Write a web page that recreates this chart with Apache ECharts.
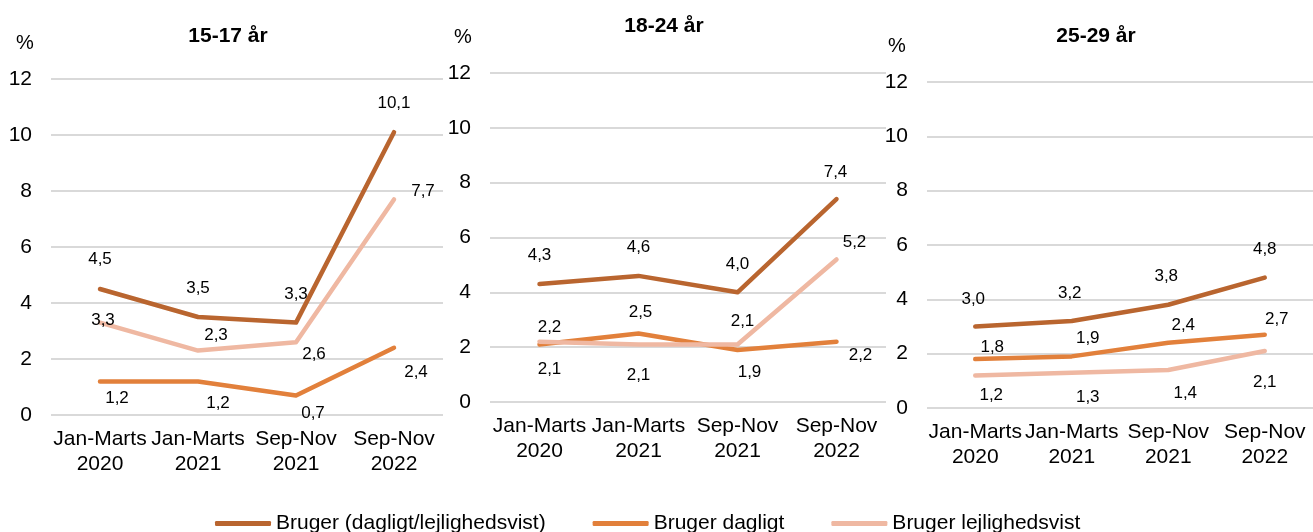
<!DOCTYPE html>
<html>
<head>
<meta charset="utf-8">
<title>Brugere</title>
<script src="https://cdn.jsdelivr.net/npm/echarts@6/dist/echarts.min.js"></script>
<style>
  html, body { margin: 0; padding: 0; background: #fff; }
  #chart { width: 1313px; height: 532px; }
</style>
</head>
<body>
<div id="chart"></div>
<script>
// kategorier på x-aksen
var categories = ['Jan-Marts\n2020', 'Jan-Marts\n2021', 'Sep-Nov\n2021', 'Sep-Nov\n2022'];
var seriesNames = ['Bruger (dagligt/lejlighedsvist)', 'Bruger dagligt', 'Bruger lejlighedsvist'];
var panelTitles = ['15-17 år', '18-24 år', '25-29 år'];
var yTicks = [0, 2, 4, 6, 8, 10, 12];

// 15-17 år
var p1Total = [4.5, 3.5, 3.3, 10.1];
var p1Daily = [1.2, 1.2, 0.7, 2.4];
var p1Occasional = [3.3, 2.3, 2.6, 7.7];
// 18-24 år
var p2Total = [4.3, 4.6, 4.0, 7.4];
var p2Daily = [2.1, 2.5, 1.9, 2.2];
var p2Occasional = [2.2, 2.1, 2.1, 5.2];
// 25-29 år
var p3Total = [3.0, 3.2, 3.8, 4.8];
var p3Daily = [1.8, 1.9, 2.4, 2.7];
var p3Occasional = [1.2, 1.3, 1.4, 2.1];

var panelData = [
    [p1Total, p1Daily, p1Occasional],
    [p2Total, p2Daily, p2Occasional],
    [p3Total, p3Daily, p3Occasional]
];

// placering af etiketter (forskydning fra punktet)
var labelOffsets = [
    [
        [[0, -30], [0, -29], [0, -28], [0, -29]],
        [[17, 17], [20, 22], [17, 18], [22, 25]],
        [[3, -2], [18, -15], [18, 12], [29, -8]]
    ],
    [
        [[0, -29], [0, -29], [0, -28], [-1, -27]],
        [[10, 25], [2, -21], [12, 22], [24, 14]],
        [[10, -14], [0, 31], [5, -23], [18, -17]]
    ],
    [
        [[-2, -27], [-2, -28], [-2, -28], [0, -28]],
        [[17, -12], [16, -18], [15, -17], [12, -15]],
        [[16, 20], [16, 25], [17, 23], [0, 31]]
    ]
];

var colors = ['#B9652F', '#E2803B', '#EFB8A2'];
var FONT = "'Liberation Sans', Arial, sans-serif";

// grid-placering for de tre paneler
var grids = [
    { left: 51, top: 79, width: 392, height: 336 },
    { left: 490, top: 73, width: 396, height: 329 },
    { left: 927, top: 82, width: 390, height: 326 }
];
var titlePos = [[228, 36], [664, 26], [1096, 36]];
var percentPos = [[25, 43], [463, 37], [897, 46]];

var echartsMain = echarts.init(document.getElementById('chart'));

var xAxes = [], yAxes = [], series = [], graphics = [];

grids.forEach(function (g, p) {
    xAxes.push({
        type: 'category',
        gridIndex: p,
        data: categories,
        boundaryGap: true,
        axisLine: { show: false },
        axisTick: { show: false },
        axisLabel: {
            interval: 0,
            margin: 12,
            fontSize: 21,
            lineHeight: 25,
            fontFamily: FONT,
            color: '#000'
        }
    });
    yAxes.push({
        type: 'value',
        gridIndex: p,
        min: yTicks[0],
        max: yTicks[yTicks.length - 1],
        interval: 2,
        axisLine: { show: false },
        axisTick: { show: false },
        axisLabel: {
            margin: 19,
            fontSize: 21,
            fontFamily: FONT,
            color: '#000'
        },
        splitLine: { lineStyle: { color: '#D9D9D9', width: 2 } }
    });

    panelData[p].forEach(function (values, s) {
        series.push({
            name: seriesNames[s],
            type: 'line',
            xAxisIndex: p,
            yAxisIndex: p,
            symbol: 'circle',
            symbolSize: 1,
            color: colors[s],
            lineStyle: { width: 4.5, color: colors[s], cap: 'round', join: 'round' },
            itemStyle: { color: colors[s] },
            emphasis: { disabled: true },
            label: {
                show: true,
                position: 'inside',
                fontSize: 17,
                fontFamily: FONT,
                color: '#000',
                formatter: function (d) {
                    return d.value.toFixed(1).replace('.', ',');
                }
            },
            data: values.map(function (v, i) {
                return { value: v, label: { offset: labelOffsets[p][s][i] } };
            }),
            animation: false
        });
    });

    graphics.push({
        type: 'text',
        x: titlePos[p][0],
        y: titlePos[p][1],
        style: {
            text: panelTitles[p],
            font: 'bold 21px ' + FONT,
            fill: '#000',
            align: 'center',
            verticalAlign: 'middle'
        }
    });
    graphics.push({
        type: 'text',
        x: percentPos[p][0],
        y: percentPos[p][1],
        style: {
            text: '%',
            font: '20px ' + FONT,
            fill: '#000',
            align: 'center',
            verticalAlign: 'middle'
        }
    });
});

var option = {
    backgroundColor: '#fff',
    animation: false,
    grid: grids,
    xAxis: xAxes,
    yAxis: yAxes,
    legend: {
        left: 210,
        top: 508,
        itemWidth: 56,
        itemHeight: 5,
        itemGap: 47,
        icon: 'roundRect',
        data: seriesNames,
        textStyle: { fontSize: 21, fontFamily: FONT, color: '#000' }
    },
    graphic: graphics,
    series: series
};

echartsMain.setOption(option);
</script>
</body>
</html>
